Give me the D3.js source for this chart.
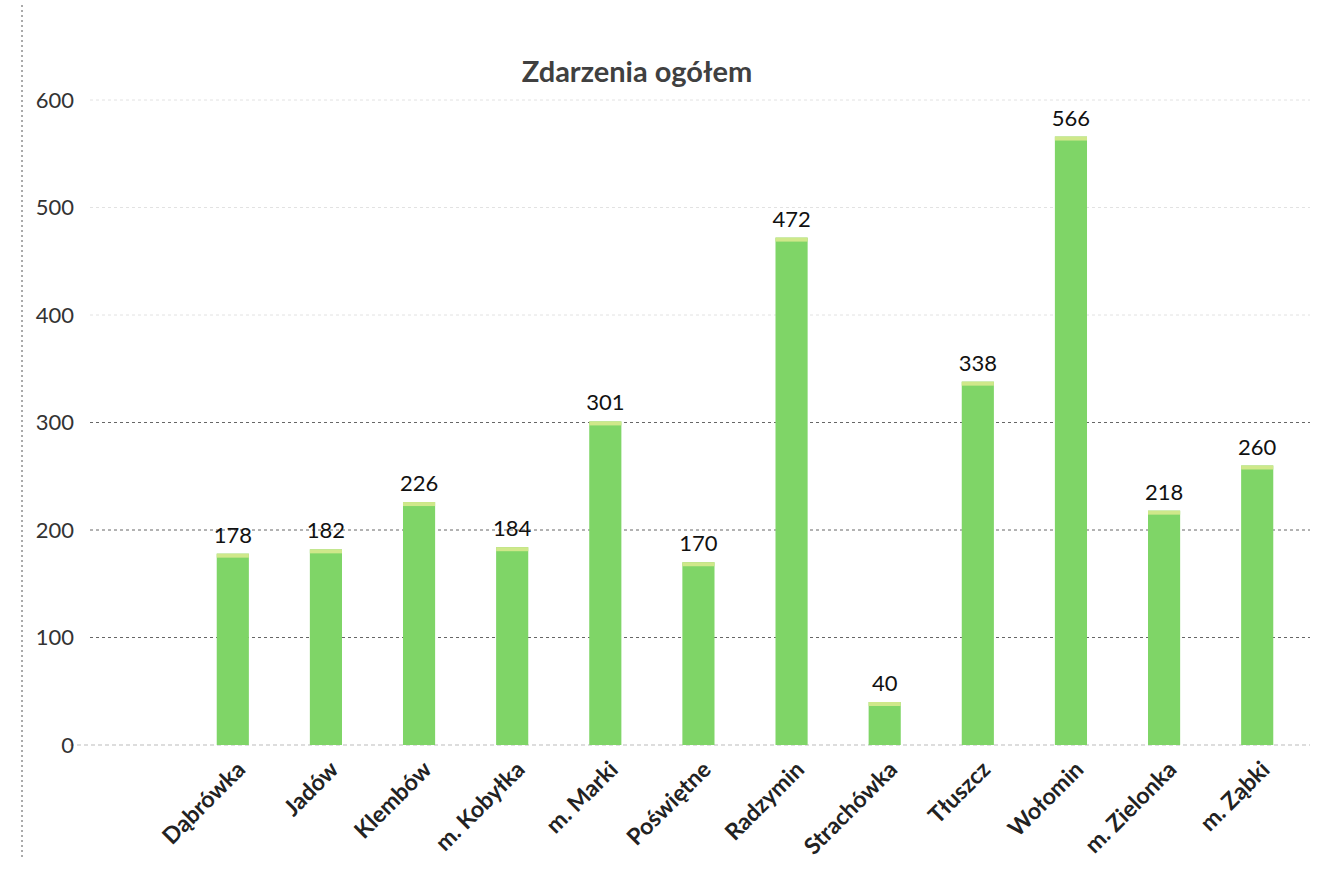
<!DOCTYPE html>
<html>
<head>
<meta charset="utf-8">
<script src="https://cdn.jsdelivr.net/npm/d3@7"></script>
<style>
  body { margin: 0; background: #fff; }
  text { font-family: Lato, "Open Sans", sans-serif; }
</style>
</head>
<body>
<div id="chart"></div>
<script>
const width = 1320;
const height = 890;

const categories = ["Dąbrówka", "Jadów", "Klembów", "m. Kobyłka", "m. Marki", "Poświętne",
  "Radzymin", "Strachówka", "Tłuszcz", "Wołomin", "m. Zielonka", "m. Ząbki"];
const values = [178, 182, 226, 184, 301, 170, 472, 40, 338, 566, 218, 260];
const yTicks = [0, 100, 200, 300, 400, 500, 600];

const svg = d3.select("#chart")
  .append("svg")
    .attr("width", width)
    .attr("height", height);

const x = d3.scaleBand()
  .domain(categories)
  .range([186, 1304])
  .paddingInner(0.655)
  .paddingOuter(0.33);

const y = d3.scaleLinear()
  .domain([0, 600])
  .range([745, 100]);

// chart border (dotted, scan edge)
svg.append("line")
  .attr("x1", 22).attr("x2", 22)
  .attr("y1", 5).attr("y2", 860)
  .attr("stroke", "#555")
  .attr("stroke-width", 1)
  .attr("stroke-dasharray", "2,3");

// title
svg.append("text")
  .attr("x", 637)
  .attr("y", 82)
  .attr("text-anchor", "middle")
  .attr("font-size", 29)
  .attr("font-weight", "bold")
  .attr("fill", "#404040")
  .text("Zdarzenia ogółem");

// gridlines
svg.append("g")
  .selectAll("line")
  .data(yTicks.filter(d => d > 0))
  .join("line")
    .attr("x1", 90)
    .attr("x2", 1310)
    .attr("y1", d => y(d))
    .attr("y2", d => y(d))
    .attr("stroke", d => d < 400 ? "#666" : "#e2e2e2")
    .attr("stroke-width", 1)
    .attr("stroke-dasharray", "3,3");

// baseline
svg.append("line")
  .attr("x1", 70).attr("x2", 1310)
  .attr("y1", y(0)).attr("y2", y(0))
  .attr("stroke", "#bbb")
  .attr("stroke-width", 1)
  .attr("stroke-dasharray", "4,3");

// y axis
const yAxis = svg.append("g")
  .attr("transform", "translate(74,0)")
  .call(d3.axisLeft(y).tickValues(yTicks).tickSize(0).tickPadding(0));
yAxis.select(".domain").remove();
yAxis.selectAll("text")
  .attr("font-size", 22)
  .attr("fill", "#333");

// bars
svg.append("g")
  .selectAll("rect")
  .data(values)
  .join("rect")
    .attr("x", (d, i) => x(categories[i]))
    .attr("y", d => y(d))
    .attr("width", x.bandwidth())
    .attr("height", d => y(0) - y(d))
    .attr("fill", "#7fd567");

// bar top highlight
svg.append("g")
  .selectAll("rect")
  .data(values)
  .join("rect")
    .attr("x", (d, i) => x(categories[i]))
    .attr("y", d => y(d))
    .attr("width", x.bandwidth())
    .attr("height", 4)
    .attr("fill", "#cfe88a");

// value labels
svg.append("g")
  .selectAll("text")
  .data(values)
  .join("text")
    .attr("x", (d, i) => x(categories[i]) + x.bandwidth() / 2)
    .attr("y", d => y(d) - 11)
    .attr("text-anchor", "middle")
    .attr("font-size", 22)
    .attr("fill", "#111")
    .text(d => d);

// category labels
svg.append("g")
  .selectAll("text")
  .data(categories)
  .join("text")
    .attr("transform", d => `translate(${x(d) + x.bandwidth() / 2 + 14},${y(0) + 26}) rotate(-45)`)
    .attr("text-anchor", "end")
    .attr("font-size", 23)
    .attr("font-weight", "bold")
    .attr("fill", "#222")
    .text(d => d);
</script>
</body>
</html>
